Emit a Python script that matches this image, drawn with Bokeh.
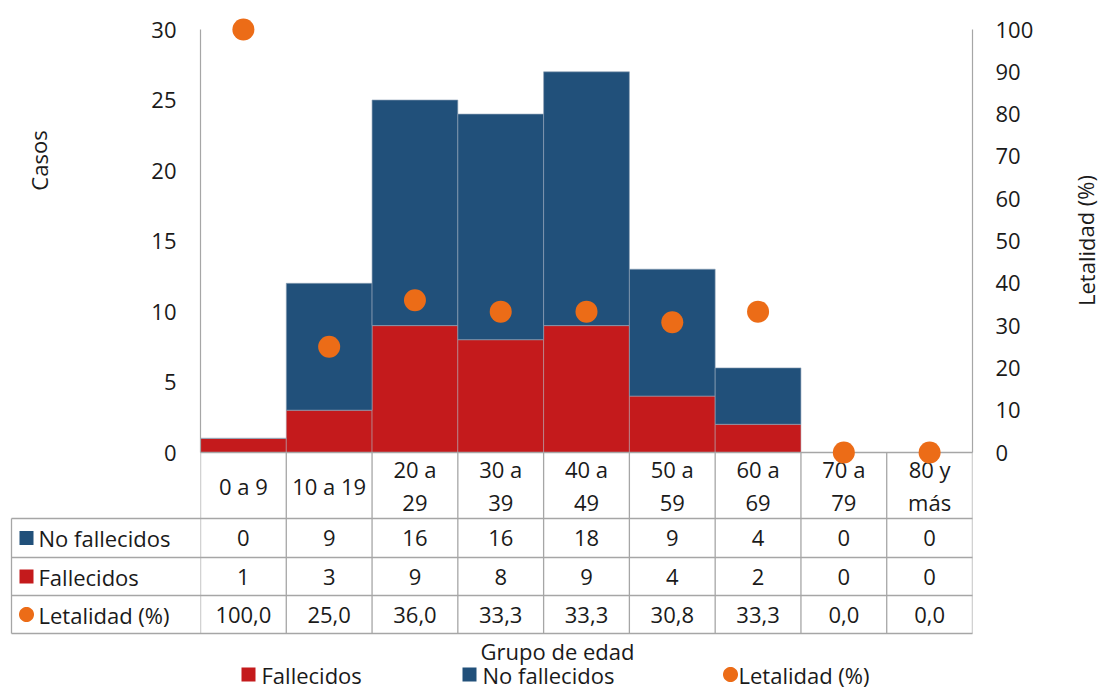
import numpy as np
from bokeh.plotting import figure
from bokeh.models import Range1d, LinearAxis, FixedTicker, ColumnDataSource
from bokeh.core.properties import value
from bokeh.embed import file_html
from bokeh.resources import INLINE

# ---- data -------------------------------------------------------------
grupos = ["0 a 9", "10 a 19", "20 a\n29", "30 a\n39", "40 a\n49",
          "50 a\n59", "60 a\n69", "70 a\n79", "80 y\nmás"]
fallecidos = [1, 3, 9, 8, 9, 4, 2, 0, 0]
no_fallecidos = [0, 9, 16, 16, 18, 9, 4, 0, 0]
letalidad = [100.0, 25.0, 36.0, 33.3, 33.3, 30.8, 33.3, 0.0, 0.0]
casos_ticks = [0, 5, 10, 15, 20, 25, 30]
letalidad_ticks = [0, 10, 20, 30, 40, 50, 60, 70, 80, 90, 100]
series_names = ["No fallecidos", "Fallecidos", "Letalidad (%)"]

# ---- style / layout ---------------------------------------------------
FONT = "Open Sans"
FS = "22px"
BLUE = "#21507A"
RED = "#C41A1C"
ORANGE = "#EC6C17"
GRID = "#A6A6A6"
TXT = "#1A1A1A"

W, H = 1102, 690
LEFT, RIGHT = 200, 972          # plot frame, horizontally
TOP30, ZERO = 29, 452           # pixel rows of 30 cases and 0 cases
units_per_px = 30 / (ZERO - TOP30)
y_start = -(H - ZERO) * units_per_px
y_end = 30 + TOP30 * units_per_px

n = len(grupos)
p = figure(width=W, height=H, output_backend="svg", toolbar_location=None,
           x_range=Range1d(0, n), y_range=Range1d(y_start, y_end),
           min_border_left=LEFT, min_border_right=W - RIGHT,
           min_border_top=0, min_border_bottom=0)
p.extra_y_ranges = {
    "pct": Range1d(y_start * 100 / 30, y_end * 100 / 30),
    "py": Range1d(H, 0),           # page rows, for the table and legend
}
p.extra_x_ranges = {"px": Range1d(LEFT, RIGHT)}
p.xaxis.visible = False
p.yaxis.visible = False
p.grid.visible = False
p.outline_line_color = None
p.background_fill_color = "white"
p.border_fill_color = "white"


def style_axis(ax):
    ax.axis_line_color = GRID
    ax.axis_line_width = 1.2
    ax.major_tick_line_color = None
    ax.minor_tick_line_color = None
    ax.major_label_text_font = FONT
    ax.major_label_text_font_size = FS
    ax.major_label_text_color = TXT


left_ax = LinearAxis(ticker=FixedTicker(ticks=casos_ticks), bounds=(0, 30))
style_axis(left_ax)
left_ax.major_label_standoff = 18
p.add_layout(left_ax, "left")

right_ax = LinearAxis(y_range_name="pct", ticker=FixedTicker(ticks=letalidad_ticks),
                      bounds=(0, 100))
style_axis(right_ax)
right_ax.major_label_standoff = 17
p.add_layout(right_ax, "right")

# ---- stacked bars -----------------------------------------------------
xs = [i + 0.5 for i in range(n)]
total = [f + nf for f, nf in zip(fallecidos, no_fallecidos)]
src = ColumnDataSource(dict(x=xs, f=fallecidos, nf=no_fallecidos, t=total,
                            let=letalidad))
p.vbar(x="x", bottom=0, top="f", width=1.0, source=src,
       fill_color=RED, line_color="#b0a0a8", line_width=0.8, line_alpha=0.7)
p.vbar(x="x", bottom="f", top="t", width=1.0, source=src,
       fill_color=BLUE, line_color="#8fa2b6", line_width=0.8, line_alpha=0.8)

# x axis line along 0
p.segment(x0=0, x1=n, y0=0, y1=0, line_color=GRID, line_width=1.5)

# ---- data table under the chart --------------------------------------
ROWS = [452, 518, 557, 595, 633]
TAB_LEFT = 11
KEY_X = 26
p.segment(x0=list(range(n + 1)), x1=list(range(n + 1)),
          y0=[ROWS[0]] * (n + 1), y1=[ROWS[-1]] * (n + 1),
          y_range_name="py", line_color=GRID, line_width=1.3)
p.segment(x0=[TAB_LEFT] * 4, x1=[RIGHT] * 4, y0=ROWS[1:], y1=ROWS[1:],
          x_range_name="px", y_range_name="py", line_color=GRID,
          line_width=1.3, level="overlay")
p.segment(x0=[TAB_LEFT], x1=[TAB_LEFT], y0=[ROWS[1]], y1=[ROWS[-1]],
          x_range_name="px", y_range_name="py", line_color=GRID,
          line_width=1.3, level="overlay")

hdr_y = (ROWS[0] + ROWS[1]) / 2
row_y = [(ROWS[k] + ROWS[k + 1]) / 2 for k in range(1, 4)]
text_kw = dict(text_font=value(FONT), text_font_size=FS, text_color=TXT,
               text_baseline="middle", y_range_name="py")
p.text(x=xs, y=[hdr_y] * n, text=grupos, text_align="center",
       text_line_height=1.1, **text_kw)
p.text(x=xs, y=[row_y[0]] * n, text=[str(v) for v in no_fallecidos],
       text_align="center", **text_kw)
p.text(x=xs, y=[row_y[1]] * n, text=[str(v) for v in fallecidos],
       text_align="center", **text_kw)
p.text(x=xs, y=[row_y[2]] * n,
       text=[f"{v:.1f}".replace(".", ",") for v in letalidad],
       text_align="center", **text_kw)
p.text(x=[38] * 3, y=row_y, text=series_names, text_align="left",
       x_range_name="px", level="overlay", **text_kw)

# ---- letalidad markers ------------------------------------------------
p.scatter(x="x", y="let", source=src, y_range_name="pct", marker="circle",
          size=22, fill_color=ORANGE, line_color=None, level="overlay")

# ---- titles -----------------------------------------------------------
p.text(x=[38], y=[160], text=["Casos"], angle=1.5708, text_align="center",
       x_range_name="px", level="overlay", **text_kw)
p.text(x=[1085], y=[240], text=["Letalidad (%)"], angle=1.5708,
       text_align="center", x_range_name="px", level="overlay", **text_kw)
p.text(x=[557], y=[650], text=["Grupo de edad"], text_align="center",
       x_range_name="px", **text_kw)

# ---- series keys: in the table's first column and in the legend row ----
LEG_Y = 674
LEG_X = {"Fallecidos": 248, "No fallecidos": 469, "Letalidad (%)": 730}
key_rows = dict(zip(series_names, row_y))
key_colors = {"No fallecidos": BLUE, "Fallecidos": RED, "Letalidad (%)": ORANGE}


def square(cx, cy, h=7):
    return [[[cx - h, cx + h, cx + h, cx - h]], [[cy - h, cy - h, cy + h, cy + h]]]


def disc(cx, cy, r=7.5, k=40):
    t = np.linspace(0, 2 * np.pi, k, endpoint=False)
    return [[list(cx + r * np.cos(t))], [list(cy + r * np.sin(t))]]


mx, my, mc = [], [], []
for name in ["Fallecidos", "No fallecidos", "Letalidad (%)"]:
    shape = disc if name.startswith("Letalidad") else square
    a = shape(KEY_X, key_rows[name])
    b = shape(LEG_X[name], LEG_Y)
    mx.append([a[0], b[0]])
    my.append([a[1], b[1]])
    mc.append(key_colors[name])
p.multi_polygons(xs=mx, ys=my, fill_color=mc, line_color=None,
                 x_range_name="px", y_range_name="py", level="overlay")

p.text(x=[LEG_X[k] + 13 - (5 if k.startswith("Letalidad") else 0)
          for k in ["Fallecidos", "No fallecidos", "Letalidad (%)"]],
       y=[LEG_Y] * 3, text=["Fallecidos", "No fallecidos", "Letalidad (%)"],
       text_align="left", x_range_name="px", **text_kw)

open("out.html", "w").write(file_html(p, INLINE))
